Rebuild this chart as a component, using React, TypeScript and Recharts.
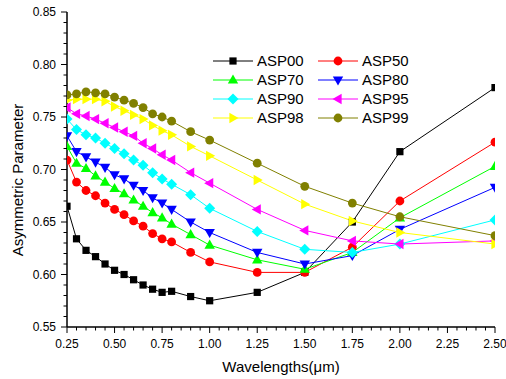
import React from 'react';
import { LineChart, Line, XAxis, YAxis, Legend } from 'recharts';

const wavelengths = [0.25, 0.3, 0.35, 0.4, 0.45, 0.5, 0.55, 0.6, 0.65, 0.7, 0.75, 0.8, 0.9, 1.0, 1.25, 1.5, 1.75, 2.0, 2.5];

const asp00 = [0.665, 0.634, 0.623, 0.617, 0.610, 0.604, 0.600, 0.595, 0.590, 0.586, 0.583, 0.584, 0.579, 0.575, 0.583, 0.602, 0.650, 0.717, 0.778];
const asp50 = [0.709, 0.688, 0.680, 0.675, 0.668, 0.662, 0.657, 0.651, 0.646, 0.639, 0.634, 0.631, 0.621, 0.612, 0.602, 0.602, 0.626, 0.670, 0.726];
const asp70 = [0.722, 0.706, 0.701, 0.694, 0.688, 0.682, 0.677, 0.671, 0.665, 0.659, 0.654, 0.648, 0.638, 0.628, 0.614, 0.605, 0.621, 0.654, 0.703];
const asp80 = [0.732, 0.717, 0.712, 0.707, 0.702, 0.695, 0.691, 0.685, 0.680, 0.673, 0.668, 0.662, 0.650, 0.640, 0.621, 0.610, 0.618, 0.643, 0.683];
const asp90 = [0.748, 0.738, 0.733, 0.730, 0.725, 0.720, 0.715, 0.709, 0.704, 0.697, 0.691, 0.686, 0.676, 0.663, 0.641, 0.624, 0.621, 0.629, 0.652];
const asp95 = [0.759, 0.753, 0.751, 0.748, 0.744, 0.740, 0.736, 0.732, 0.725, 0.720, 0.714, 0.709, 0.697, 0.687, 0.662, 0.642, 0.632, 0.629, 0.632];
const asp98 = [0.766, 0.767, 0.767, 0.767, 0.765, 0.760, 0.756, 0.752, 0.748, 0.742, 0.737, 0.733, 0.722, 0.713, 0.690, 0.667, 0.651, 0.640, 0.629];
const asp99 = [0.771, 0.772, 0.774, 0.773, 0.772, 0.769, 0.766, 0.763, 0.759, 0.753, 0.750, 0.746, 0.736, 0.728, 0.706, 0.684, 0.668, 0.655, 0.637];

const xMajorTicks = [0.25, 0.5, 0.75, 1.0, 1.25, 1.5, 1.75, 2.0, 2.25, 2.5];
const yMajorTicks = [0.55, 0.6, 0.65, 0.7, 0.75, 0.8, 0.85];

const seriesNames = ['ASP00', 'ASP50', 'ASP70', 'ASP80', 'ASP90', 'ASP95', 'ASP98', 'ASP99'];
const seriesValues = [asp00, asp50, asp70, asp80, asp90, asp95, asp98, asp99];
const seriesColors = ['#000000', '#FF0000', '#00FF00', '#0000FF', '#00FFFF', '#FF00FF', '#FFFF00', '#808000'];
const seriesShapes = ['square', 'circle', 'up', 'down', 'diamond', 'left', 'right', 'circle'];

const FONT = '"Liberation Sans", Arial, Helvetica, sans-serif';

const data = wavelengths.map((x, i) => {
  const row: any = { x };
  seriesNames.forEach((n, s) => { row[n] = seriesValues[s][i]; });
  return row;
});

const xMinorTicks: number[] = [];
for (let i = 0; i <= 45; i++) xMinorTicks.push(Math.round((0.25 + i * 0.05) * 1000) / 1000);
const yMinorTicks: number[] = [];
for (let i = 0; i <= 30; i++) yMinorTicks.push(Math.round((0.55 + i * 0.01) * 1000) / 1000);

const isMajor = (v: number, list: number[]) => list.some((m) => Math.abs(m - v) < 1e-6);

function Marker({ kind, cx, cy, color }: { kind: string; cx: number; cy: number; color: string }) {
  if (kind === 'square') return <rect x={cx - 3.6} y={cy - 3.6} width={7.2} height={7.2} fill={color} />;
  if (kind === 'circle') return <circle cx={cx} cy={cy} r={4.4} fill={color} />;
  let pts = '';
  if (kind === 'up') pts = `${cx},${cy - 5.5} ${cx - 5.2},${cy + 3.6} ${cx + 5.2},${cy + 3.6}`;
  if (kind === 'down') pts = `${cx},${cy + 5.5} ${cx - 5.2},${cy - 3.6} ${cx + 5.2},${cy - 3.6}`;
  if (kind === 'left') pts = `${cx - 5.5},${cy} ${cx + 3.6},${cy - 5.2} ${cx + 3.6},${cy + 5.2}`;
  if (kind === 'right') pts = `${cx + 5.5},${cy} ${cx - 3.6},${cy - 5.2} ${cx - 3.6},${cy + 5.2}`;
  if (kind === 'diamond') pts = `${cx},${cy - 5.5} ${cx + 5.5},${cy} ${cx},${cy + 5.5} ${cx - 5.5},${cy}`;
  return <polygon points={pts} fill={color} />;
}

const YTick = (props: any) => {
  const { x, y, payload } = props;
  const v = payload.value;
  const major = isMajor(v, yMajorTicks);
  return (
    <g>
      <line x1={x} x2={x - (major ? 6 : 3.5)} y1={y} y2={y} stroke="#000" strokeWidth={1} />
      {major && (
        <text x={x - 11} y={y + 4.3} textAnchor="end" fontSize={12} fontFamily={FONT} fill="#000">
          {v.toFixed(2)}
        </text>
      )}
    </g>
  );
};

const XTick = (props: any) => {
  const { x, y, payload } = props;
  const v = payload.value;
  const major = isMajor(v, xMajorTicks);
  return (
    <g>
      <line x1={x} x2={x} y1={y} y2={y + (major ? 6 : 3.5)} stroke="#000" strokeWidth={1} />
      {major && (
        <text x={x} y={y + 20.5} textAnchor="middle" fontSize={12} fontFamily={FONT} fill="#000">
          {v.toFixed(2)}
        </text>
      )}
    </g>
  );
};

const LegendContent = () => {
  const cols = [{ l1: 8, l2: 48, m: 28, t: 52 }, { l1: 113, l2: 153, m: 133, t: 157 }];
  return (
    <svg width={215} height={80} style={{ display: 'block' }}>
      {seriesNames.map((n, i) => {
        const c = cols[i % 2];
        const y = 11 + 19 * Math.floor(i / 2);
        return (
          <g key={n}>
            <line x1={c.l1} x2={c.l2} y1={y} y2={y} stroke={seriesColors[i]} strokeWidth={1} />
            <Marker kind={seriesShapes[i]} cx={c.m} cy={y} color={seriesColors[i]} />
            <text x={c.t} y={y + 5.4} fontSize={15} fontFamily={FONT} fill="#000">{n}</text>
          </g>
        );
      })}
    </svg>
  );
};

export default function App() {
  return (
    <div style={{ position: 'absolute', left: 0, top: 0, width: 506, height: 379, background: '#fff' }}>
      <LineChart width={506} height={379} data={data} margin={{ top: 12, right: 11, bottom: 0, left: 0 }}>
        <XAxis
          dataKey="x"
          type="number"
          domain={[0.25, 2.5]}
          ticks={xMinorTicks}
          interval={0}
          tickSize={0}
          tickMargin={0}
          tick={<XTick />}
          height={52}
          axisLine={{ stroke: '#000', strokeWidth: 1.5 }}
          tickLine={false}
          allowDataOverflow
          label={(p: any) => (
            <text x={281} y={372} textAnchor="middle" fontSize={15} fontFamily={FONT} fill="#000">
              Wavelengths(μm)
            </text>
          )}
        />
        <YAxis
          type="number"
          domain={[0.55, 0.85]}
          ticks={yMinorTicks}
          interval={0}
          tickSize={0}
          tickMargin={0}
          tick={<YTick />}
          width={67}
          axisLine={{ stroke: '#000', strokeWidth: 1.5 }}
          tickLine={false}
          allowDataOverflow
          label={(p: any) => (
            <text
              x={22.5}
              y={180}
              textAnchor="middle"
              fontSize={15}
              fontFamily={FONT}
              fill="#000"
              transform="rotate(-90, 22.5, 180)"
            >
              Asymmetric Parameter
            </text>
          )}
        />
        <Legend
          layout="horizontal"
          verticalAlign="middle"
          align="center"
          content={<LegendContent />}
          wrapperStyle={{ position: 'absolute', left: 205, top: 50, width: 215, height: 80 }}
        />
        {seriesNames.map((n, i) => (
          <Line
            key={n}
            dataKey={n}
            type="linear"
            stroke={seriesColors[i]}
            strokeWidth={1}
            isAnimationActive={false}
            activeDot={false}
            dot={(p: any) => (
              <Marker key={`${n}-${p.index}`} kind={seriesShapes[i]} cx={p.cx} cy={p.cy} color={seriesColors[i]} />
            )}
          />
        ))}
      </LineChart>
    </div>
  );
}
